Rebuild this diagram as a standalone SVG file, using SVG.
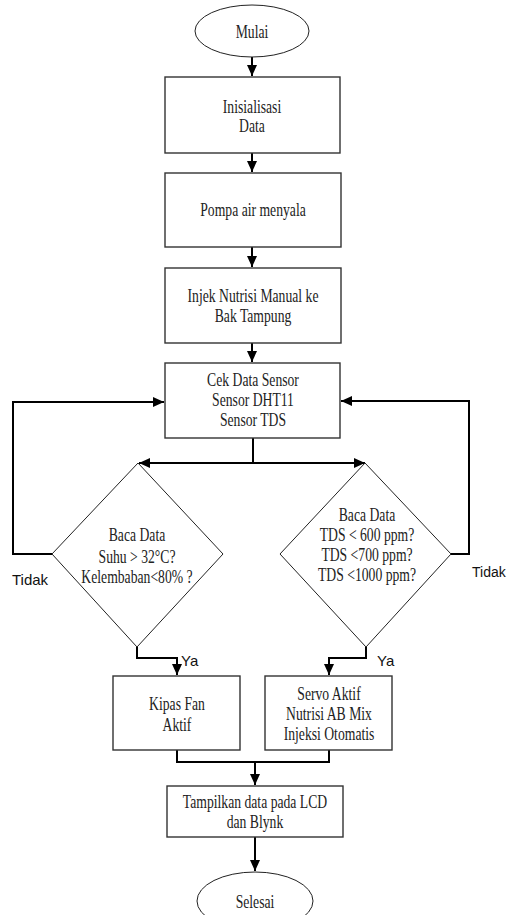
<svg xmlns="http://www.w3.org/2000/svg" width="507" height="915" viewBox="0 0 507 915">
<style>
.box{fill:#fff;stroke:#333;stroke-width:1.4}
.dia{fill:#fff;stroke:#222;stroke-width:1}
.t{font-family:"Liberation Serif","Times New Roman",serif;font-size:18px;fill:#222;text-anchor:middle}
.s{font-family:"Liberation Sans",Arial,sans-serif;font-size:15px;fill:#111}
.c{fill:none;stroke:#000;stroke-width:2}
</style>
<defs>
<marker id="ah" markerUnits="userSpaceOnUse" markerWidth="11" markerHeight="10" refX="11" refY="5" orient="auto">
<path d="M0,0 L11,5 L0,10 z" fill="#000"/>
</marker>
</defs>
<rect width="507" height="915" fill="#fff"/>
<g id="connectors">
<path class="c" d="M252,57 V76" marker-end="url(#ah)"/>
<path class="c" d="M252,153 V172" marker-end="url(#ah)"/>
<path class="c" d="M252,247 V267" marker-end="url(#ah)"/>
<path class="c" d="M252,343 V362" marker-end="url(#ah)"/>
<path class="c" d="M253,438 V463"/>
<path class="c" d="M253,463 H139" marker-end="url(#ah)"/>
<path class="c" d="M253,463 H365" marker-end="url(#ah)"/>
<path class="c" d="M52,554 H13 V402 H164" marker-end="url(#ah)"/>
<path class="c" d="M451,554 H469 V401 H341" marker-end="url(#ah)"/>
<path class="c" d="M137,647 V658 H177 V675" marker-end="url(#ah)"/>
<path class="c" d="M366,647 V658 H329 V675" marker-end="url(#ah)"/>
<path class="c" d="M177,750 V762 H329 V750"/>
<path class="c" d="M255,762 V785" marker-end="url(#ah)"/>
<path class="c" d="M255,837 V871" marker-end="url(#ah)"/>
</g>
<g id="mulai">
<ellipse cx="252" cy="31" rx="57" ry="26" fill="#fff" stroke="#222" stroke-width="1"/>
<text class="t" transform="translate(252,38) scale(0.76,1)">Mulai</text>
</g>
<g id="inisialisasi">
<rect class="box" x="165" y="77" width="175" height="76"/>
<text class="t" transform="translate(252,113) scale(0.76,1)">Inisialisasi</text>
<text class="t" transform="translate(252,132) scale(0.76,1)">Data</text>
</g>
<g id="pompa">
<rect class="box" x="165" y="173" width="176" height="74"/>
<text class="t" transform="translate(253,216) scale(0.76,1)">Pompa air menyala</text>
</g>
<g id="injek">
<rect class="box" x="165" y="268" width="176" height="75"/>
<text class="t" transform="translate(253,302) scale(0.76,1)">Injek Nutrisi Manual ke</text>
<text class="t" transform="translate(253,322) scale(0.76,1)">Bak Tampung</text>
</g>
<g id="cekdata">
<rect class="box" x="165" y="363" width="175" height="75"/>
<text class="t" transform="translate(253,386) scale(0.76,1)">Cek Data Sensor</text>
<text class="t" transform="translate(253,406) scale(0.76,1)">Sensor DHT11</text>
<text class="t" transform="translate(253,426) scale(0.76,1)">Sensor TDS</text>
</g>
<g id="cek-suhu">
<polygon class="dia" points="138,463 223,554 137,647 52,554"/>
<text class="t" transform="translate(137,541) scale(0.76,1)">Baca Data</text>
<text class="t" transform="translate(137,563) scale(0.76,1)">Suhu &gt; 32°C?</text>
<text class="t" transform="translate(137,583) scale(0.76,1)">Kelembaban&lt;80% ?</text>
</g>
<g id="cek-tds">
<polygon class="dia" points="365,463 451,554 366,647 280,554"/>
<text class="t" transform="translate(367,521) scale(0.76,1)">Baca Data</text>
<text class="t" transform="translate(367,541) scale(0.76,1)">TDS &lt; 600 ppm?</text>
<text class="t" transform="translate(367,561) scale(0.76,1)">TDS &lt;700 ppm?</text>
<text class="t" transform="translate(367,581) scale(0.76,1)">TDS &lt;1000 ppm?</text>
</g>
<g id="labels">
<text class="s" x="12" y="585">Tidak</text>
<text class="s" x="472" y="577" style="font-size:14px">Tidak</text>
<text class="s" x="181" y="666">Ya</text>
<text class="s" x="377" y="666">Ya</text>
</g>
<g id="kipas">
<rect class="box" x="113" y="676" width="127" height="74"/>
<text class="t" transform="translate(177,710) scale(0.76,1)">Kipas Fan</text>
<text class="t" transform="translate(177,731) scale(0.76,1)">Aktif</text>
</g>
<g id="servo">
<rect class="box" x="265" y="676" width="127" height="74"/>
<text class="t" transform="translate(329,700) scale(0.76,1)">Servo Aktif</text>
<text class="t" transform="translate(329,720) scale(0.76,1)">Nutrisi AB Mix</text>
<text class="t" transform="translate(329,740) scale(0.76,1)">Injeksi Otomatis</text>
</g>
<g id="tampilkan">
<rect class="box" x="167" y="786" width="176" height="51"/>
<text class="t" transform="translate(255,808) scale(0.76,1)">Tampilkan data pada LCD</text>
<text class="t" transform="translate(255,828) scale(0.76,1)">dan Blynk</text>
</g>
<g id="selesai">
<ellipse cx="255" cy="901" rx="58" ry="29" fill="#fff" stroke="#222" stroke-width="1"/>
<text class="t" transform="translate(255,908) scale(0.76,1)">Selesai</text>
</g>
</svg>
